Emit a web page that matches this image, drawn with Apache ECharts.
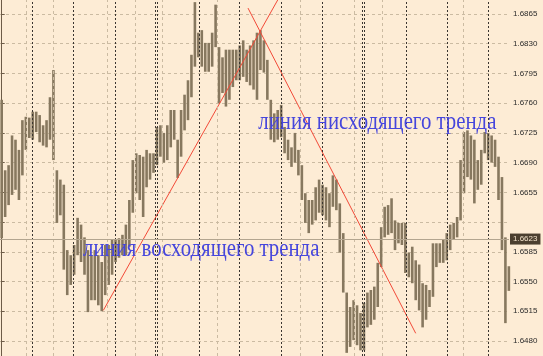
<!DOCTYPE html>
<html><head><meta charset="utf-8">
<script src="https://cdn.jsdelivr.net/npm/echarts@6/dist/echarts.min.js"></script>
<style>html,body{margin:0;padding:0;background:#fdecd5}#c{width:543px;height:356px}</style>
</head><body><div id="c"></div>
<script>
// H2-style OHLC bars: high / low per bar
const highs = [1.6764,1.6681,1.6687,1.6722,1.6717,1.6705,1.6740,1.6744,1.6743,1.6750,
1.6750,1.6746,1.6734,1.6740,1.6767,1.6799,1.6681,1.6670,1.6664,1.6587,
1.6581,1.6593,1.6625,1.6617,1.6602,1.6587,1.6581,1.6587,1.6581,1.6573,
1.6593,1.6593,1.6599,1.6599,1.6601,1.6605,1.6617,1.6646,1.6693,1.6701,
1.6699,1.6697,1.6705,1.6701,1.6701,1.6732,1.6734,1.6725,1.6734,1.6752,
1.6752,1.6717,1.6752,1.6770,1.6787,1.6817,1.6879,1.6843,1.6846,1.6831,
1.6831,1.6843,1.6876,1.6826,1.6814,1.6823,1.6823,1.6823,1.6823,1.6828,
1.6834,1.6823,1.6828,1.6834,1.6843,1.6846,1.6834,1.6811,1.6764,1.6748,
1.6752,1.6758,1.6732,1.6717,1.6708,1.6725,1.6705,1.6687,1.6654,1.6646,
1.6646,1.6661,1.6670,1.6664,1.6661,1.6654,1.6675,1.6670,1.6642,1.6607,
1.6537,1.6520,1.6528,1.6522,1.6513,1.6525,1.6537,1.6540,1.6544,1.6572,
1.6614,1.6638,1.6640,1.6648,1.6622,1.6619,1.6619,1.6619,1.6584,1.6591,
1.6575,1.6570,1.6548,1.6546,1.6540,1.6595,1.6595,1.6595,1.6599,1.6607,
1.6617,1.6619,1.6626,1.6693,1.6726,1.6728,1.6722,1.6717,1.6693,1.6705,
1.6726,1.6725,1.6722,1.6717,1.6697,1.6673,1.6602,1.6568];
const lows = [1.6601,1.6626,1.6640,1.6652,1.6658,1.6646,1.6675,1.6705,1.6719,1.6717,
1.6726,1.6714,1.6710,1.6708,1.6717,1.6693,1.6619,1.6628,1.6564,1.6534,
1.6546,1.6558,1.6581,1.6573,1.6558,1.6514,1.6528,1.6528,1.6522,1.6515,
1.6534,1.6546,1.6558,1.6573,1.6578,1.6581,1.6581,1.6591,1.6631,1.6654,
1.6646,1.6626,1.6661,1.6670,1.6678,1.6687,1.6697,1.6690,1.6693,1.6708,
1.6717,1.6672,1.6697,1.6728,1.6740,1.6767,1.6803,1.6814,1.6803,1.6797,
1.6797,1.6803,1.6826,1.6760,1.6772,1.6756,1.6764,1.6779,1.6787,1.6787,
1.6791,1.6785,1.6781,1.6776,1.6764,1.6799,1.6796,1.6764,1.6717,1.6714,
1.6717,1.6720,1.6701,1.6693,1.6685,1.6690,1.6675,1.6646,1.6619,1.6607,
1.6617,1.6622,1.6631,1.6628,1.6622,1.6614,1.6638,1.6634,1.6584,1.6537,
1.6466,1.6473,1.6481,1.6475,1.6469,1.6469,1.6496,1.6499,1.6505,1.6520,
1.6567,1.6602,1.6605,1.6607,1.6587,1.6595,1.6593,1.6560,1.6555,1.6548,
1.6528,1.6516,1.6496,1.6505,1.6520,1.6532,1.6567,1.6572,1.6572,1.6575,
1.6587,1.6599,1.6602,1.6622,1.6654,1.6673,1.6670,1.6642,1.6658,1.6664,
1.6701,1.6693,1.6690,1.6685,1.6646,1.6587,1.6501,1.6539];
const priceTicks = [1.6480,1.6515,1.6550,1.6585,1.6620,1.6655,1.6690,1.6725,1.6760,1.6795,1.6830,1.6865];
const priceLabels = [1.6480,1.6515,1.6550,1.6585,1.6655,1.6690,1.6725,1.6760,1.6795,1.6830,1.6865];
const bidPrice = 1.6623;
const priceMin = 1.64623, priceMax = 1.68815;
// day separators and time grid (in bar positions)
const daySeparators = [8.78,20.67,32.84,44.58,45.16,57.19,68.78,80.96,92.84,104.58,105.16,117.19,129.07,140.96];
const timeGrid = [7.04,14.87,30.67,38.64,46.61,62.41,86.46,102.12,110.23,133.71];
// trend lines: [bar, price] endpoints
const upTrend = [[29.45,1.6516],[80.0,1.68815]];
const downTrend = [[71.39,1.6872],[120.0,1.6489]];
const upLabel = 'линия восходящего тренда';
const downLabel = 'линия нисходящего тренда';

const barData = highs.map((h,i)=>[i,h,lows[i]]);
const chart = echarts.init(document.getElementById('c'), null, {renderer:'canvas'});
const option = {
  animation:false,
  backgroundColor:'#fdecd5',
  grid:{left:0,right:34,top:0,bottom:0},
  xAxis:{type:'value',min:-0.49,max:147.04,show:false},
  yAxis:{type:'value',position:'right',min:priceMin,max:priceMax,
    axisLine:{show:true,lineStyle:{color:'#6d5c48',width:1}},
    axisTick:{show:true,length:3,customValues:priceTicks,lineStyle:{color:'#6d5c48'}},
    axisLabel:{customValues:priceLabels,formatter:v=>v.toFixed(4),fontSize:8,color:'#2b2b2b',margin:4,fontFamily:'"Liberation Sans", Arial, sans-serif'},
    splitLine:{show:true,lineStyle:{type:[3,3],color:'#cbbba2',width:1}}
  },
  series:[
    {type:'line',data:[],z:1,silent:true,
      markLine:{silent:true,symbol:['none','none'],animation:false,
        data:[
          ...timeGrid.map(v=>({xAxis:v,lineStyle:{type:[3,3],color:'#cbbba2',width:1},label:{show:false}})),
          ...daySeparators.map(v=>({xAxis:v,lineStyle:{type:[2,2],color:'#3a3530',width:1},label:{show:false}})),
          {yAxis:bidPrice,lineStyle:{type:'solid',color:'#b3a58f',width:1},
            label:{show:true,position:'end',formatter:bidPrice.toFixed(4),backgroundColor:'#4b3f2f',color:'#f3e3cc',fontSize:8,padding:[2,3,1,3],distance:1,fontFamily:'"Liberation Sans", Arial, sans-serif'}}
        ]}
    },
    {type:'custom',z:2,silent:true,data:barData,
      renderItem:function(params,api){
        const x=api.value(0), hi=api.value(1), lo=api.value(2);
        const t=api.coord([x,hi]), b=api.coord([x,lo]);
        return {type:'rect',shape:{x:t[0]-1.3,y:t[1],width:2.6,height:Math.max(1,b[1]-t[1])},style:{fill:'#87785f'}};
      }
    },
    {type:'line',z:3,data:upTrend,symbol:'none',silent:true,lineStyle:{color:'#f24a38',width:1}},
    {type:'line',z:3,data:downTrend,symbol:'none',silent:true,lineStyle:{color:'#f24a38',width:1}}
  ],
  graphic:[
    {type:'text',x:83,y:249.4,scaleX:0.8,z:10,silent:true,style:{text:upLabel,fontSize:26,fontFamily:'"Liberation Serif", "Times New Roman", serif',fill:'#4646dc',verticalAlign:'middle',align:'left'}},
    {type:'text',x:258.3,y:122.1,scaleX:0.8,z:10,silent:true,style:{text:downLabel,fontSize:26,fontFamily:'"Liberation Serif", "Times New Roman", serif',fill:'#4646dc',verticalAlign:'middle',align:'left'}}
  ]
};
chart.setOption(option);
</script></body></html>
